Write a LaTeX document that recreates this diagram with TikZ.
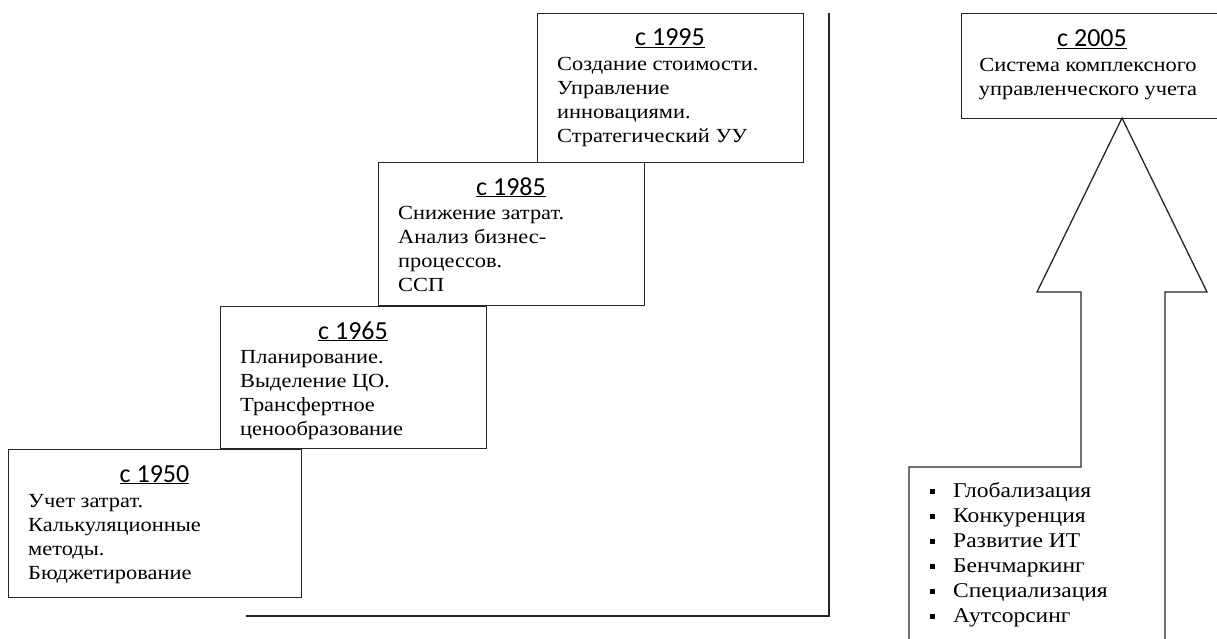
\documentclass[tikz,border=0pt]{standalone}
\usepackage{fontspec}
\setmainfont[FakeStretch=1.12]{Liberation Serif}
\newfontfamily\headfont{Carlito}
\newcommand{\bodyfont}{\fontsize{20}{24}\selectfont}
\newcommand{\bul}{\makebox[23pt][l]{\raisebox{3.5pt}{\rule{5pt}{5pt}}}}
\tikzset{
  box/.style={draw=black!85, line width=1.3pt, rectangle, inner sep=0pt, anchor=north west},
  head/.style={inner sep=0pt, anchor=base, font=\headfont\fontsize{26}{28}\selectfont},
  bodyl/.style={inner sep=0pt, anchor=base west, font=\bodyfont},
  bodyc/.style={inner sep=0pt, anchor=base, font=\bodyfont},
  ln/.style={draw=black!85, line width=1.3pt},
}
\begin{document}
\begin{tikzpicture}[x=1pt,y=-1pt]
\useasboundingbox (0,0) rectangle (1217,639);
\clip (0,0) rectangle (1217,639);
% boxes
\node[box, minimum width=293pt, minimum height=148pt] (b1950) at (8,449) {};
\node[box, minimum width=266pt, minimum height=142pt] (b1965) at (220,306) {};
\node[box, minimum width=266pt, minimum height=143pt] (b1985) at (378,162) {};
\node[box, minimum width=266pt, minimum height=149pt] (b1995) at (537,13) {};
\node[box, minimum width=258pt, minimum height=105pt] (b2005) at (961,13) {};
% headings
\node[head] (h1950) at (154.5,482) {\underline{с 1950}};
\node[head] (h1965) at (353,339) {\underline{с 1965}};
\node[head] (h1985) at (511,195) {\underline{с 1985}};
\node[head] (h1995) at (670,46) {\underline{с 1995}};
\node[head] (h2005) at (1092,46.5) {\underline{с 2005}};
% bodies
\node[bodyl] (t1950) at (28,507) {\parbox[t]{260pt}{\raggedright Учет затрат.\\Калькуляционные\\методы.\\Бюджетирование}};
\node[bodyl] (t1965) at (240,363) {\parbox[t]{240pt}{\raggedright Планирование.\\Выделение ЦО.\\Трансфертное\\ценообразование}};
\node[bodyl] (t1985) at (398,219) {\parbox[t]{240pt}{\raggedright Снижение затрат.\\Анализ бизнес-\\процессов.\\ССП}};
\node[bodyl] (t1995) at (557,71) {\parbox[t]{240pt}{\raggedright Создание стоимости.\\Управление\\инновациями.\\Стратегический УУ}};
\node[bodyc] (t2005) at (1088,72) {\parbox[t]{250pt}{\centering Система комплексного\\управленческого учета}};
% bullets
\node[bodyl, font=\fontsize{21}{25}\selectfont] (list) at (930,497) {\parbox[t]{260pt}{\raggedright
\bul Глобализация\\\bul Конкуренция\\\bul Развитие ИТ\\\bul Бенчмаркинг\\\bul Специализация\\\bul Аутсорсинг}};
% frame lines
\coordinate (ltop) at (829,13);
\coordinate (lcorner) at (829,616);
\coordinate (lend) at (246,616);
\draw[ln] (ltop) -- (lcorner) -- (lend);
% arrow
\coordinate (tip) at (1122,118);
\draw[ln, line join=miter] (909,650) -- (909,467) -- (1081,467) -- (1081,292) -- (1037,292) -- (tip) -- (1207,292) -- (1165,292) -- (1165,650);
\end{tikzpicture}
\end{document}
